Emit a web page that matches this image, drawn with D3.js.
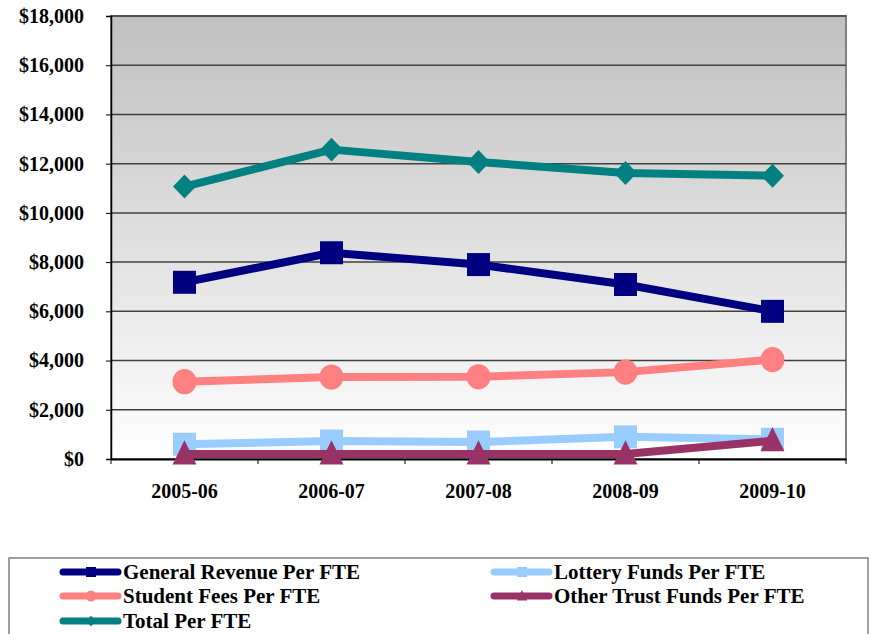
<!DOCTYPE html>
<html>
<head>
<meta charset="utf-8">
<script src="https://cdn.jsdelivr.net/npm/d3@7"></script>
<style>
  body { margin: 0; background: #fff; }
  text { font-family: "Liberation Serif", "DejaVu Serif", serif; font-weight: bold; fill: #000; }
</style>
</head>
<body>
<div id="chart"></div>
<script>
// Funding per FTE, 2005-06 to 2009-10

const years = ["2005-06", "2006-07", "2007-08", "2008-09", "2009-10"];
const generalRevenue = [7180, 8380, 7900, 7090, 6000];
const lotteryFunds = [600, 730, 690, 900, 800];
const studentFees = [3140, 3330, 3340, 3530, 4040];
const otherTrust = [200, 200, 200, 200, 740];
const totalPerFte = [11070, 12570, 12070, 11620, 11510];
const yTicks = [0, 2000, 4000, 6000, 8000, 10000, 12000, 14000, 16000, 18000];

const series = [
    { name: "General Revenue Per FTE", values: generalRevenue, color: "#000080", marker: "square" },
    { name: "Lottery Funds Per FTE", values: lotteryFunds, color: "#99ccff", marker: "square" },
    { name: "Student Fees Per FTE", values: studentFees, color: "#ff8080", marker: "circle" },
    { name: "Other Trust Funds Per FTE", values: otherTrust, color: "#993366", marker: "triangle" },
    { name: "Total Per FTE", values: totalPerFte, color: "#008080", marker: "diamond" }
];
// other trust drawn last so it sits over lottery
const drawOrder = [4, 0, 2, 1, 3];

const W = 885, H = 634;
const plot = { left: 111, right: 846, top: 16, bottom: 459 };

const svg = d3.select("#chart").append("svg")
    .attr("width", W)
    .attr("height", H);

const defs = svg.append("defs");
const grad = defs.append("linearGradient")
    .attr("id", "bg")
    .attr("x1", 0).attr("y1", 0).attr("x2", 0).attr("y2", 1);
grad.append("stop").attr("offset", "0%").attr("stop-color", "#c0c0c0");
grad.append("stop").attr("offset", "100%").attr("stop-color", "#ffffff");

const x = d3.scaleBand()
    .domain(years)
    .range([plot.left, plot.right]);

const y = d3.scaleLinear()
    .domain([0, 18000])
    .range([plot.bottom, plot.top]);

// plot background
svg.append("rect")
    .attr("x", plot.left)
    .attr("y", plot.top)
    .attr("width", plot.right - plot.left)
    .attr("height", plot.bottom - plot.top)
    .attr("fill", "url(#bg)")
    .attr("stroke", "#808080")
    .attr("stroke-width", 2);

// gridlines
svg.append("g")
    .selectAll("line")
    .data(yTicks.filter(d => d > 0))
    .enter()
    .append("line")
    .attr("x1", plot.left)
    .attr("x2", plot.right)
    .attr("y1", d => y(d))
    .attr("y2", d => y(d))
    .attr("stroke", "#404040")
    .attr("stroke-width", 1.5);

// y axis
const yAxis = svg.append("g")
    .attr("transform", `translate(${plot.left},0)`)
    .call(d3.axisLeft(y).tickValues(yTicks).tickSize(5).tickFormat(d => "$" + d3.format(",")(d)));
yAxis.select(".domain").attr("stroke", "#000").attr("stroke-width", 1.5);
yAxis.selectAll(".tick line").attr("stroke", "#000");
yAxis.selectAll("text")
    .attr("x", -27)
    .style("font-size", "20px")
    .style("font-family", "'Liberation Serif', serif")
    .style("font-weight", "bold");

// x axis
const xAxis = svg.append("g")
    .attr("transform", `translate(0,${plot.bottom})`)
    .call(d3.axisBottom(x).tickSize(0).tickPadding(25));
xAxis.select(".domain").attr("stroke", "#000").attr("stroke-width", 2);
xAxis.selectAll("text")
    .style("font-size", "20px")
    .style("font-family", "'Liberation Serif', serif")
    .style("font-weight", "bold");
// tick marks at band boundaries
svg.append("g")
    .selectAll("line")
    .data(years.concat(["end"]))
    .enter()
    .append("line")
    .attr("x1", (d, i) => i < years.length ? x(d) : x(years[years.length - 1]) + x.bandwidth())
    .attr("x2", (d, i) => i < years.length ? x(d) : x(years[years.length - 1]) + x.bandwidth())
    .attr("y1", plot.bottom)
    .attr("y2", plot.bottom + 5)
    .attr("stroke", "#000");

const cx = d => x(d) + x.bandwidth() / 2;

function drawMarker(g, type, color, px, py, s) {
    if (type === "square") {
        g.append("rect")
            .attr("x", px - s / 2).attr("y", py - s / 2)
            .attr("width", s).attr("height", s)
            .attr("fill", color);
    } else if (type === "circle") {
        g.append("ellipse")
            .attr("cx", px).attr("cy", py)
            .attr("rx", s * 0.52).attr("ry", s * 0.55)
            .attr("fill", color);
    } else if (type === "triangle") {
        g.append("path")
            .attr("d", `M${px},${py - s * 0.6}L${px + s * 0.52},${py + s * 0.45}L${px - s * 0.52},${py + s * 0.45}Z`)
            .attr("fill", color);
    } else if (type === "diamond") {
        g.append("path")
            .attr("d", `M${px},${py - s * 0.52}L${px + s * 0.5},${py}L${px},${py + s * 0.52}L${px - s * 0.5},${py}Z`)
            .attr("fill", color);
    }
}

const line = d3.line()
    .x((d, i) => cx(years[i]))
    .y(d => y(d));

const lines = svg.append("g");
drawOrder.forEach(k => {
    const s = series[k];
    const g = lines.append("g");
    g.append("path")
        .datum(s.values)
        .attr("d", line)
        .attr("fill", "none")
        .attr("stroke", s.color)
        .attr("stroke-width", 8)
        .attr("stroke-linejoin", "round");
    s.values.forEach((v, i) => drawMarker(g, s.marker, s.color, cx(years[i]), y(v), 23));
});

// legend
const legend = svg.append("g");
legend.append("rect")
    .attr("x", 9)
    .attr("y", 558)
    .attr("width", 859)
    .attr("height", 90)
    .attr("fill", "#fff")
    .attr("stroke", "#808080")
    .attr("stroke-width", 1.5);

const legendPos = [
    { x: 63, y: 572 }, { x: 494, y: 572 },
    { x: 63, y: 596 }, { x: 494, y: 596 },
    { x: 63, y: 621 }
];
series.forEach((s, i) => {
    const p = legendPos[i];
    const g = legend.append("g");
    g.append("line")
        .attr("x1", p.x).attr("x2", p.x + 55)
        .attr("y1", p.y).attr("y2", p.y)
        .attr("stroke", s.color)
        .attr("stroke-width", 7)
        .attr("stroke-linecap", "round");
    drawMarker(g, s.marker, s.color, p.x + 28, p.y, 10);
    g.append("text")
        .attr("x", p.x + 60)
        .attr("y", p.y + 7)
        .style("font-size", "21px")
        .text(s.name);
});
</script>
</body>
</html>
